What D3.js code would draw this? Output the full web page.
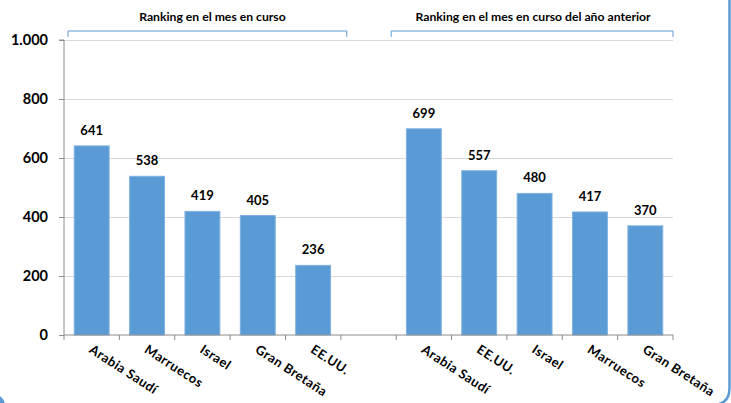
<!DOCTYPE html>
<html><head><meta charset="utf-8">
<script src="https://cdn.jsdelivr.net/npm/d3@7"></script>
<style>body{margin:0;background:#fff;}svg{display:block;font-family:Lato,"Open Sans",sans-serif;}</style>
</head><body><svg id="c" width="731" height="403"></svg>
<script>
const categories = ["Arabia Saudí","Marruecos","Israel","Gran Bretaña","EE.UU.","","Arabia Saudí","EE.UU.","Israel","Marruecos","Gran Bretaña"];
const values = [641,538,419,405,236,null,699,557,480,417,370];
const yTicks = [0,200,400,600,800,1000];
const groupTitles = ["Ranking en el mes en curso","Ranking en el mes en curso del año anterior"];
const groupRanges = [[0,4],[6,10]];

(function(){
const svg = d3.select("#c");
const pL = 64, pR = 673, pT = 40, pB = 335;
const idx = categories.map((d,i)=>i);
const x = d3.scaleBand().domain(idx).range([pL,pR]).paddingInner(0.37).paddingOuter(0.185);
const xt = d3.scaleBand().domain(idx).range([pL,pR]);
const y = d3.scaleLinear().domain([0,1000]).range([pB,pT]);
const fmt = v => v===1000 ? "1.000" : String(v);

// grid
svg.append("g").selectAll("line").data(yTicks.filter(t=>t>0)).join("line")
  .attr("x1",pL).attr("x2",pR).attr("y1",d=>y(d)).attr("y2",d=>y(d))
  .attr("stroke","#d9d9d9").attr("stroke-width",1).attr("shape-rendering","crispEdges");

// bars
svg.append("g").selectAll("rect").data(idx.filter(i=>values[i]!=null)).join("rect")
  .attr("x",i=>x(i)).attr("width",x.bandwidth())
  .attr("y",i=>y(values[i])).attr("height",i=>pB-y(values[i]))
  .attr("fill","#5b9bd5").attr("stroke","#7fb1e0").attr("stroke-width",1);

// value labels
svg.append("g").selectAll("text").data(idx.filter(i=>values[i]!=null)).join("text")
  .attr("x",i=>x(i)+x.bandwidth()/2).attr("y",i=>y(values[i])-11)
  .attr("text-anchor","middle").attr("font-size",13).attr("font-weight","bold").attr("fill","#000")
  .text(i=>values[i]);

// y axis
const ya = svg.append("g").attr("transform",`translate(${pL},0)`)
  .call(d3.axisLeft(y).tickValues(yTicks).tickFormat(fmt).tickSize(5).tickPadding(11));
ya.select(".domain").attr("stroke","#8c8c8c").attr("d",`M-5,${pT}H0V${pB}`);
ya.selectAll(".tick line").attr("stroke","#8c8c8c");
ya.selectAll("text").attr("font-size",14.5).attr("font-weight","bold").attr("fill","#000").attr("font-family","Lato,sans-serif");

// x axis
const xa = svg.append("g").attr("transform",`translate(0,${pB})`);
xa.append("line").attr("x1",pL).attr("x2",pR).attr("y1",0).attr("y2",0).attr("stroke","#8c8c8c");
xa.selectAll("line.t").data(idx.concat([idx.length])).join("line").attr("class","t")
  .attr("x1",i=>i<idx.length?xt(i):pR).attr("x2",i=>i<idx.length?xt(i):pR)
  .attr("y1",0).attr("y2",5).attr("stroke","#8c8c8c");
xa.selectAll("text").data(idx).join("text")
  .attr("transform",i=>`translate(${xt(i)+xt.bandwidth()/2-1},${13}) rotate(33)`)
  .attr("text-anchor","start").attr("font-size",13).attr("font-weight","bold").attr("fill","#000")
  .attr("letter-spacing","0.5px").attr("dy","0.35em")
  .text(i=>categories[i]);

// group brackets
const bracketPad = [[4,6],[-5,0]];
groupRanges.forEach((r,k)=>{
  const x0 = xt(r[0])+bracketPad[k][0], x1 = xt(r[1])+xt.bandwidth()+bracketPad[k][1];
  svg.append("path").attr("d",`M${x0},37V31H${x1}V37`).attr("fill","none").attr("stroke","#5b9bd5").attr("stroke-width",1);
  svg.append("text").attr("x",(x0+x1)/2+(k===0?5:1)).attr("y",21).attr("text-anchor","middle")
    .attr("font-size",12.2).attr("font-weight","bold").attr("fill","#000").text(groupTitles[k]);
});

// frame
svg.append("path").attr("d","M729.5,-5V388Q729.5,405 712,405H-20").attr("fill","none").attr("stroke","#5b9bd5").attr("stroke-width",2.5);
svg.append("path").attr("d","M0,396Q3,398 5,403H0Z").attr("fill","#5b9bd5");
})();
</script></body></html>
